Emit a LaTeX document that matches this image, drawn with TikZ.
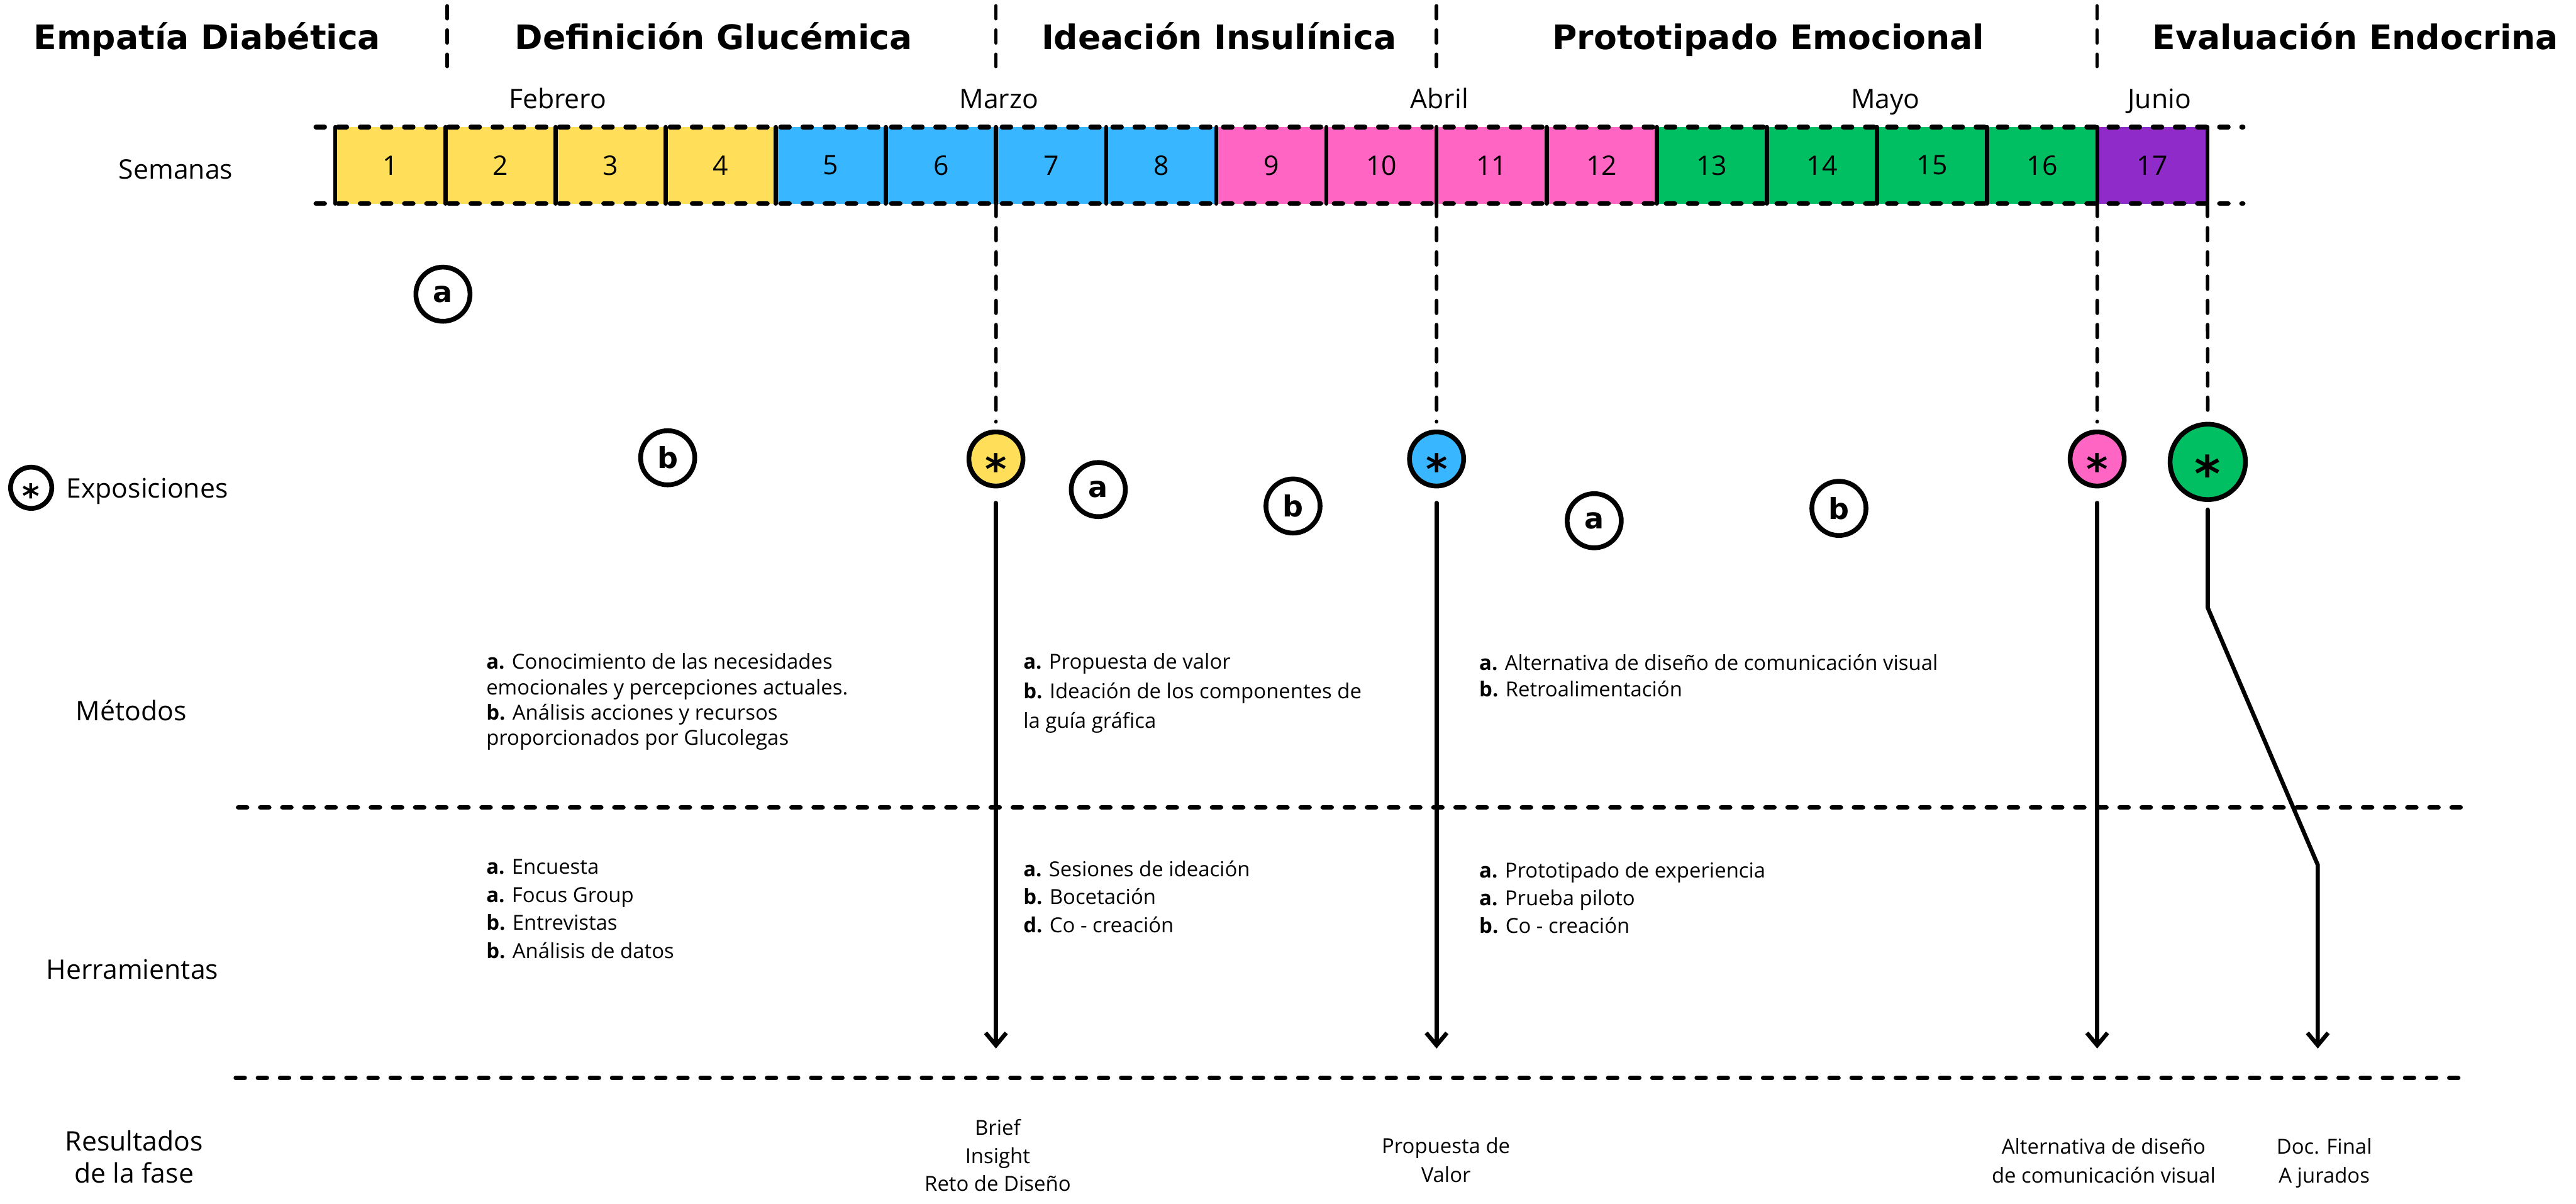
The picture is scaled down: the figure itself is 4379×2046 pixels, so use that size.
\documentclass[tikz,border=0pt]{standalone}
\usepackage{fontspec}
\setmainfont{Open Sans}
\newfontfamily\gruesa{DejaVu Sans}
\usetikzlibrary{arrows.meta}

\definecolor{amarillo}{HTML}{FFDE59}
\definecolor{azul}{HTML}{38B6FF}
\definecolor{rosa}{HTML}{FF66C4}
\definecolor{verde}{HTML}{00BF63}
\definecolor{morado}{HTML}{8F2BC8}

\newcommand{\estrella}{\smash{\raisebox{-0.6em}{*}}}

\begin{document}
\begin{tikzpicture}[
    x=0.01cm,y=-0.01cm,
    line cap=round,
    line join=round,
    fase/.style={anchor=base, inner sep=0pt, font=\gruesa\bfseries\fontsize{16.3}{20}\selectfont},
    mes/.style={anchor=base, inner sep=0pt, font=\fontsize{13}{16}\selectfont},
    rotulo/.style={inner sep=0pt, align=center, font=\fontsize{13}{15.6}\selectfont},
    semana/.style={minimum width=1.872cm, minimum height=1.30cm, inner sep=0pt, outer sep=0pt, font=\fontsize{13}{16}\selectfont},
    letra/.style={circle, draw, line width=2.3pt, fill=white, minimum size=0.92cm, inner sep=0pt, font=\gruesa\bfseries\fontsize{14}{14}\selectfont},
    expo/.style={circle, draw, line width=2.3pt, minimum size=0.92cm, inner sep=0pt, font=\gruesa\bfseries\fontsize{20}{20}\selectfont},
    bloque/.style={anchor=north west, inner sep=0pt, align=left, font=\fontsize{10}{13.5}\selectfont},
    resultado/.style={anchor=north, inner sep=0pt, align=center, font=\fontsize{10}{14}\selectfont},
    separador/.style={draw, line width=1.7pt, dash pattern=on 6.2pt off 5.5pt},
    guia/.style={draw, line width=2.3pt, dash pattern=on 4.2pt off 6.5pt},
    borde/.style={draw, line width=2pt},
    flecha/.style={draw, line width=2pt, -{Straight Barb[length=6pt,width=10pt]}}
]
\useasboundingbox (0,0) rectangle (4379,2046);

% fases
\node[fase] (empatia) at (352,84) {Empatía Diabética};
\node[fase] (definicion) at (1213,84) {Definición Glucémica};
\node[fase] (ideacion) at (2072,84) {Ideación Insulínica};
\node[fase] (prototipado) at (3006,84) {Prototipado Emocional};
\node[fase] (evaluacion) at (4004,84) {Evaluación Endocrina};

\foreach \x in {760,1693,2442,3565} {
    \draw[separador] (\x,10) -- (\x,113);
}

% meses
\node[mes] (febrero) at (948,184) {Febrero};
\node[mes] (marzo) at (1698,184) {Marzo};
\node[mes] (abril) at (2447,184) {Abril};
\node[mes] (mayo) at (3205,184) {Mayo};
\node[mes] (junio) at (3671,184) {Junio};

% semanas
\node[rotulo, anchor=base] (semanas) at (299,304) {Semanas};

\foreach \i/\c in {1/amarillo,2/amarillo,3/amarillo,4/amarillo,
                   5/azul,6/azul,7/azul,8/azul,
                   9/rosa,10/rosa,11/rosa,12/rosa,
                   13/verde,14/verde,15/verde,16/verde,17/morado} {
    \node[semana, fill=\c] (w\i) at ({570+187.2*(\i-0.5)},281) {\i};
}
\foreach \i in {1,...,17} {
    \draw[borde] (w\i.north west) -- (w\i.south west);
}
\draw[borde] (w17.north east) -- (w17.south east);

\coordinate (franjaA) at (537,216);
\coordinate (franjaB) at (3813,216);
\coordinate (franjaC) at (537,346);
\coordinate (franjaD) at (3813,346);
\draw[guia] (franjaA) -- (franjaB);
\draw[guia] (franjaC) -- (franjaD);

% exposiciones y metodos
\node[expo, fill=white, minimum size=0.70cm, font=\gruesa\bfseries\fontsize{16}{16}\selectfont] (leyenda) at (53,829) {\estrella};
\node[rotulo, anchor=base west] (exposiciones) at (112,846) {Exposiciones};

\node[letra] (a1) at (753,500) {a};
\node[letra] (b1) at (1135,778) {b};
\node[letra] (a2) at (1867,832) {a};
\node[letra] (b2) at (2198,860) {b};
\node[letra] (a3) at (2710,885) {a};
\node[letra] (b3) at (3126,864) {b};

\node[expo, fill=amarillo] (expoA) at (1693,780) {\estrella};
\node[expo, fill=azul] (expoB) at (2442,780) {\estrella};
\node[expo, fill=rosa] (expoC) at (3565,780) {\estrella};
\node[expo, fill=verde, minimum size=1.28cm, font=\gruesa\bfseries\fontsize{24}{24}\selectfont] (expoD) at (3753,785) {\estrella};

\draw[separador, shorten >=3.7pt] (w6.south east) -- (expoA.north);
\draw[separador, shorten >=3.7pt] (w10.south east) -- (expoB.north);
\draw[separador, shorten >=3.7pt] (w16.south east) -- (expoC.north);
\draw[separador, shorten >=3.7pt] (w17.south east) -- (expoD.north);

% flechas
\coordinate (finA) at (1693,1782);
\coordinate (finB) at (2442,1782);
\coordinate (finC) at (3565,1782);
\coordinate (codoD) at (3753,1033);
\coordinate (codoE) at (3940,1470);
\coordinate (finD) at (3940,1782);

\draw[flecha, shorten <=7pt] (expoA.south) -- (finA);
\draw[flecha, shorten <=7pt] (expoB.south) -- (finB);
\draw[flecha, shorten <=7pt] (expoC.south) -- (finC);
\draw[flecha, shorten <=3.7pt] (expoD.south) -- (codoD) -- (codoE) -- (finD);

% filas
\node[rotulo] (metodos) at (223,1207) {Métodos};
\node[rotulo] (herramientas) at (225,1648) {Herramientas};
\node[rotulo, anchor=north] (resultados) at (228,1920) {Resultados\\de la fase};

\coordinate (lineaA) at (405,1372);
\coordinate (lineaB) at (4190,1372);
\coordinate (lineaC) at (401,1832);
\coordinate (lineaD) at (4190,1832);
\draw[guia] (lineaA) -- (lineaB);
\draw[guia] (lineaC) -- (lineaD);

\node[bloque, font=\fontsize{10}{12.2}\selectfont] (met1) at (826,1110) {\textbf{a.} Conocimiento de las necesidades\\emocionales y percepciones actuales.\\\textbf{b.} Análisis acciones y recursos\\proporcionados por Glucolegas};
\node[bloque, font=\fontsize{10}{14.2}\selectfont] (met2) at (1739,1110) {\textbf{a.} Propuesta de valor\\\textbf{b.} Ideación de los componentes de\\la guía gráfica};
\node[bloque, font=\fontsize{10}{12.8}\selectfont] (met3) at (2514,1111) {\textbf{a.} Alternativa de diseño de comunicación visual\\\textbf{b.} Retroalimentación};

\node[bloque] (her1) at (826,1460) {\textbf{a.} Encuesta\\\textbf{a.} Focus Group\\\textbf{b.} Entrevistas\\\textbf{b.} Análisis de datos};
\node[bloque] (her2) at (1739,1462) {\textbf{a.} Sesiones de ideación\\\textbf{b.} Bocetación\\\textbf{d.} Co - creación};
\node[bloque] (her3) at (2514,1464) {\textbf{a.} Prototipado de experiencia\\\textbf{a.} Prueba piloto\\\textbf{b.} Co - creación};

% resultados
\node[resultado, font=\fontsize{10}{13.5}\selectfont] (resA) at (1696,1902) {Brief\\Insight\\Reto de Diseño};
\node[resultado] (resB) at (2458,1933) {Propuesta de\\Valor};
\node[resultado] (resC) at (3576,1934) {Alternativa de diseño\\de comunicación visual};
\node[resultado] (resD) at (3951,1934) {Doc. Final\\A jurados};

\end{tikzpicture}
\end{document}
